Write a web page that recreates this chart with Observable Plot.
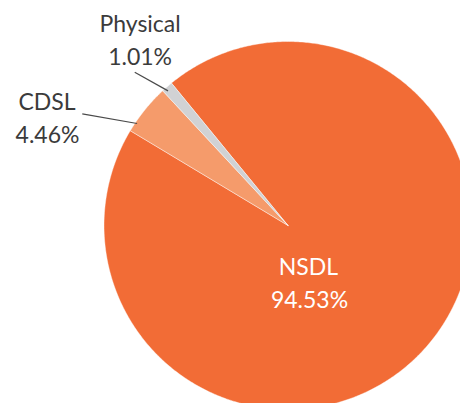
<!DOCTYPE html>
<html><head><meta charset="utf-8">
<script src="https://cdn.jsdelivr.net/npm/d3@7"></script>
<script src="https://cdn.jsdelivr.net/npm/@observablehq/plot@0.6"></script>
<style>html,body{margin:0;padding:0;background:#fff;overflow:hidden}</style>
</head><body><div id="chart"></div>
<script>
// ---- data ----
const categories = ["NSDL", "CDSL", "Physical"];
const shares = [94.53, 4.46, 1.01];
const shareLabels = ["94.53%", "4.46%", "1.01%"];

// ---- styles / layout ----
const colors = ["#F26C36", "#F59B6B", "#D1D2D4"];
const W = 460, H = 403, cx = 287.5, cy = 225, R = 184;
const startDeg = -39.3;
// label placement in pie-radius units (u right, v down), leader: fraction along slice, radius, outer end
const labelLayout = {
  NSDL:     {name: [0.111, 0.227], value: [0.117, 0.408], fill: "#ffffff"},
  CDSL:     {name: [-1.310, -0.670], value: [-1.307, -0.489], fill: "#3b3b3b",
             leader: {t: 0.19, r: 0.99, to: [-1.118, -0.607]}},
  Physical: {name: [-0.804, -1.091], value: [-0.804, -0.910], fill: "#3b3b3b",
             leader: {t: 0.34, r: 0.98, to: [-0.833, -0.833]}}
};

const toRad = Math.PI / 180;
const pie = d3.pie().sort(null)
  .startAngle(startDeg * toRad)
  .endAngle((360 + startDeg) * toRad);
const arcs = pie(shares);

const slicePts = [];
arcs.forEach((a, i) => {
  const n = Math.max(2, Math.ceil((a.endAngle - a.startAngle) / (Math.PI / 360)));
  slicePts.push({cat: categories[i], u: 0, v: 0});
  for (let k = 0; k <= n; k++) {
    const t = a.startAngle + (a.endAngle - a.startAngle) * k / n;
    slicePts.push({cat: categories[i], u: Math.sin(t), v: -Math.cos(t)});
  }
  slicePts.push({cat: categories[i], u: 0, v: 0});
});

const texts = [];
const leaders = [];
arcs.forEach((a, i) => {
  const L = labelLayout[categories[i]];
  texts.push({text: categories[i], u: L.name[0], v: L.name[1], fill: L.fill});
  texts.push({text: shareLabels[i], u: L.value[0], v: L.value[1], fill: L.fill});
  if (L.leader) {
    const ang = a.startAngle + (a.endAngle - a.startAngle) * L.leader.t;
    leaders.push({u1: L.leader.r * Math.sin(ang), v1: -L.leader.r * Math.cos(ang),
                  u2: L.leader.to[0], v2: L.leader.to[1]});
  }
});

const chart = Plot.plot({
  width: W, height: H, margin: 0,
  x: {domain: [-1, 1], range: [cx - R, cx + R], axis: null},
  y: {domain: [-1, 1], range: [cy - R, cy + R], axis: null},
  color: {domain: categories, range: colors},
  style: {fontFamily: "Lato, 'Open Sans', sans-serif", background: "#fff"},
  marks: [
    Plot.line(slicePts, {x: "u", y: "v", z: "cat", fill: "cat", stroke: "#ffffff",
      strokeWidth: 0.6, strokeOpacity: 0.7, curve: "linear"}),
    Plot.link(leaders, {x1: "u1", y1: "v1", x2: "u2", y2: "v2", stroke: "#4a4a4a", strokeWidth: 1.2}),
    Plot.text(texts, {x: "u", y: "v", text: "text", fill: d => d.fill, fontSize: 23,
      textAnchor: "middle", lineAnchor: "middle"})
  ]
});
document.getElementById("chart").appendChild(chart);
</script>
</body></html>
